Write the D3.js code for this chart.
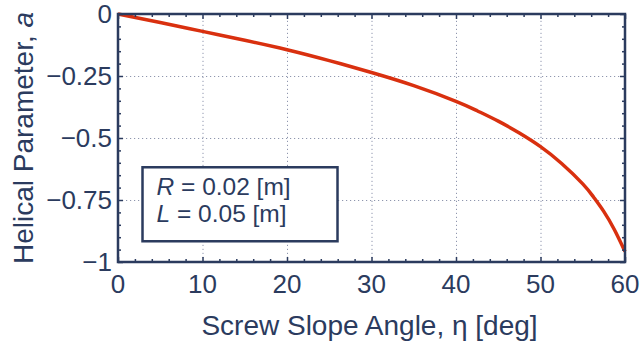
<html>
<head>
<script src="https://d3js.org/d3.v7.min.js"></script>
<style>
body { margin: 0; background: #fff; }
text { font-family: "Liberation Sans", Arial, sans-serif; fill: #2b3b5e; }
.grid line { stroke: #8f96ae; stroke-width: 1; stroke-dasharray: 1.2, 2.8; }
.grid .domain { stroke: none; }
.ax .domain { stroke: none; }
.ax line { stroke: #2b3b5e; stroke-width: 1.5; }
</style>
</head>
<body>
<svg id="chart" width="641" height="349"></svg>
<script>
// screw slope angle (deg) and helical parameter a
const eta = [0, 5, 10, 15, 20, 25, 30, 35, 40, 42.5, 45, 47.5, 50, 52.5, 55, 56.25, 57.5, 58.75, 60];
const helical = [0, -0.034, -0.070, -0.106, -0.144, -0.188, -0.236, -0.289, -0.352, -0.390, -0.432, -0.480, -0.535, -0.603, -0.685, -0.737, -0.797, -0.870, -0.958];

const xTicks = [0, 10, 20, 30, 40, 50, 60];
const yTicks = [0, -0.25, -0.5, -0.75, -1];
const yTickLabels = ["0", "\u22120.25", "\u22120.5", "\u22120.75", "\u22121"];
const legendLines = [["R", " = 0.02 [m]"], ["L", " = 0.05 [m]"]];

const svg = d3.select('svg#chart');
const margins = {top: 14, right: 16, bottom: 87, left: 118};
const chartWidth = 641 - margins.left - margins.right;
const chartHeight = 349 - margins.top - margins.bottom;
const navy = '#2b3b5e';

const x = d3.scaleLinear().domain([0, 60]).range([0, chartWidth]);
const y = d3.scaleLinear().domain([-1, 0]).range([chartHeight, 0]);

const g = svg.append('g').attr('transform', `translate(${margins.left},${margins.top})`);

// dotted grid
g.append('g').attr('class', 'grid')
    .attr('transform', `translate(0,${chartHeight})`)
    .call(d3.axisBottom(x).tickValues(xTicks.slice(1, -1)).tickSize(-chartHeight).tickFormat(''));
g.append('g').attr('class', 'grid')
    .call(d3.axisLeft(y).tickValues(yTicks.slice(1, -1)).tickSize(-chartWidth).tickFormat(''));

// curve
const line = d3.line().x((d, i) => x(eta[i])).y(d => y(d)).curve(d3.curveNatural);
g.append('path').datum(helical)
    .attr('d', line)
    .attr('fill', 'none')
    .attr('stroke', '#d9300f')
    .attr('stroke-width', 3.5);

// ticks on all four sides, pointing inward
const xMinor = d3.range(0, 61, 2).filter(v => v % 10 !== 0);
const yMinor = d3.range(-100, 1, 5).map(v => v / 100).filter(v => Math.round(v * 100) % 25 !== 0);

function tickSet(axisFn, scale, vals, size, tr) {
    g.append('g').attr('class', 'ax').attr('transform', tr)
        .call(axisFn(scale).tickValues(vals).tickSize(size).tickFormat(''));
}
tickSet(d3.axisBottom, x, xTicks, -5, `translate(0,${chartHeight})`);
tickSet(d3.axisBottom, x, xMinor, -3, `translate(0,${chartHeight})`);
tickSet(d3.axisTop, x, xTicks, -5, 'translate(0,0)');
tickSet(d3.axisTop, x, xMinor, -3, 'translate(0,0)');
tickSet(d3.axisLeft, y, yTicks, -5, 'translate(0,0)');
tickSet(d3.axisLeft, y, yMinor, -3, 'translate(0,0)');
tickSet(d3.axisRight, y, yTicks, -5, `translate(${chartWidth},0)`);
tickSet(d3.axisRight, y, yMinor, -3, `translate(${chartWidth},0)`);

// frame
g.append('rect')
    .attr('width', chartWidth).attr('height', chartHeight)
    .attr('fill', 'none').attr('stroke', navy).attr('stroke-width', 2.5);

// tick labels
g.selectAll('.xlab').data(xTicks).join('text')
    .attr('x', d => x(d)).attr('y', chartHeight + 31)
    .attr('text-anchor', 'middle').attr('font-size', 26)
    .text(d => d);
g.selectAll('.ylab').data(yTicks).join('text')
    .attr('x', -6).attr('y', d => y(d) + 9)
    .attr('text-anchor', 'end').attr('font-size', 26)
    .text((d, i) => yTickLabels[i]);

// axis titles
svg.append('text')
    .attr('x', margins.left + chartWidth / 2 - 2).attr('y', 335)
    .attr('text-anchor', 'middle').attr('font-size', 28)
    .text('Screw Slope Angle, \u03b7 [deg]');
const yl = svg.append('text')
    .attr('transform', `translate(33,${margins.top + chartHeight / 2}) rotate(-90)`)
    .attr('text-anchor', 'middle').attr('font-size', 28);
yl.append('tspan').text('Helical Parameter,  ');
yl.append('tspan').attr('font-style', 'italic').text('a');

// parameter box
const box = g.append('g').attr('transform', `translate(${x(2.9)},${y(-0.618)})`);
box.append('rect')
    .attr('width', 195).attr('height', 74)
    .attr('fill', '#fff').attr('stroke', navy).attr('stroke-width', 2.5);
legendLines.forEach((l, i) => {
    const t = box.append('text')
        .attr('x', 14).attr('y', 28 + i * 27).attr('font-size', 24.5);
    t.append('tspan').attr('font-style', 'italic').text(l[0]);
    t.append('tspan').text(l[1]);
});
</script>
</body>
</html>
